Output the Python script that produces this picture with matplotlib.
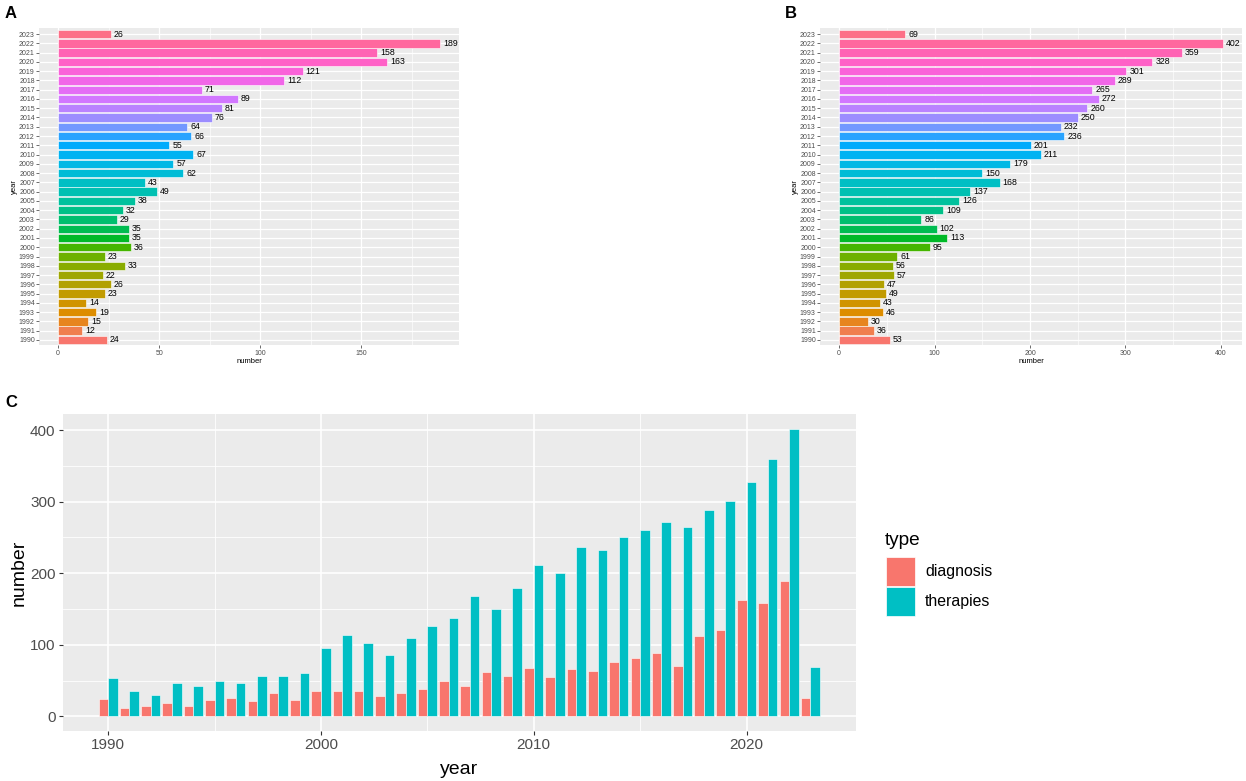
import numpy as np
import matplotlib
matplotlib.use("Agg")
import matplotlib.pyplot as plt
from matplotlib.patches import Rectangle

plt.rcParams['font.family'] = ['Liberation Sans', 'DejaVu Sans']

# ---------------------------------------------------------------
# data
# ---------------------------------------------------------------
years = list(range(1990, 2024))
diagnosis = [24, 12, 15, 19, 14, 23, 26, 22, 33, 23,
             36, 35, 35, 29, 32, 38, 49, 43, 62, 57,
             67, 55, 66, 64, 76, 81, 89, 71, 112, 121,
             163, 158, 189, 26]
therapies = [53, 36, 30, 46, 43, 49, 47, 57, 56, 61,
             95, 113, 102, 86, 109, 126, 137, 168, 150, 179,
             211, 201, 236, 232, 250, 260, 272, 265, 289, 301,
             328, 359, 402, 69]
type_labels = ['diagnosis', 'therapies']

BG = '#EBEBEB'
TXT = '#4D4D4D'
TICK = '#333333'


def hue_pal(n, c=100.0, l=65.0):
    # ggplot2 default discrete palette (polar LUV -> sRGB)
    hues = np.linspace(15, 375, n + 1)[:-1]
    Xn, Yn, Zn = 95.047, 100.0, 108.883
    un = 4 * Xn / (Xn + 15 * Yn + 3 * Zn)
    vn = 9 * Yn / (Xn + 15 * Yn + 3 * Zn)
    out = []
    for h in hues:
        hr = np.deg2rad(h)
        u, v = c * np.cos(hr), c * np.sin(hr)
        Y = Yn * ((l + 16) / 116) ** 3
        up = u / (13 * l) + un
        vp = v / (13 * l) + vn
        X = 9 * Y * up / (4 * vp)
        Z = Y * (12 - 3 * up - 20 * vp) / (4 * vp)
        xyz = np.array([X, Y, Z]) / 100
        m = np.array([[3.240479, -1.537150, -0.498535],
                      [-0.969256, 1.875992, 0.041556],
                      [0.055648, -0.204043, 1.057311]])
        rgb = m @ xyz
        rgb = np.where(rgb <= 0.0031308, 12.92 * rgb,
                       1.055 * np.abs(rgb) ** (1 / 2.4) - 0.055)
        out.append(tuple(np.clip(rgb, 0, 1)))
    return out


def gg_axes(ax):
    ax.set_facecolor(BG)
    for s in ax.spines.values():
        s.set_visible(False)
    ax.set_axisbelow(True)


fig = plt.figure(figsize=(12.46, 7.81), dpi=100)
W, H = 1246, 781


def px_axes(x0, y0, x1, y1):
    return fig.add_axes([x0 / W, 1 - y1 / H, (x1 - x0) / W, (y1 - y0) / H])


year_cols = hue_pal(len(years))
ypos = np.arange(len(years))


def bar_panel(ax, values, xmajor, xminor):
    gg_axes(ax)
    vmax = max(values)
    ax.barh(ypos, values, height=0.9, color=year_cols,
            edgecolor='white', linewidth=0.4, zorder=3)
    for y, v in zip(ypos, values):
        ax.text(v + vmax * 0.008, y, str(v), fontsize=6.3, color='black',
                va='center', ha='left', zorder=4)
    ax.set_xlim(-0.05 * vmax, 1.05 * vmax)
    ax.set_ylim(-0.6, len(years) - 0.4)
    ax.set_xticks(xmajor)
    ax.set_xticks(xminor, minor=True)
    ax.set_yticks(ypos)
    ax.set_yticklabels([str(y) for y in years])
    ax.grid(which='major', color='white', linewidth=0.9)
    ax.grid(which='minor', axis='x', color='white', linewidth=0.45)
    ax.tick_params(axis='both', which='major', length=2, width=0.5,
                   color=TICK, labelsize=5, labelcolor=TXT, pad=1)
    ax.tick_params(which='minor', length=0)
    ax.set_xlabel('number', fontsize=5.5, labelpad=1)
    ax.set_ylabel('year', fontsize=5.5, labelpad=1)


# ---------------- panel A ----------------
axA = px_axes(39, 28.5, 459, 345.5)
bar_panel(axA, diagnosis, [0, 50, 100, 150], [25, 75, 125, 175])

# ---------------- panel B ----------------
axB = px_axes(820, 28.5, 1242, 345.5)
bar_panel(axB, therapies, [0, 100, 200, 300, 400], [50, 150, 250, 350])

# ---------------- panel C ----------------
axC = px_axes(62.5, 414.3, 856, 730.7)
gg_axes(axC)
yr = np.array(years)
w = 0.45
cols = ['#F8766D', '#00BFC4']
axC.bar(yr - w / 2, diagnosis, width=w, color=cols[0],
        edgecolor='white', linewidth=0.4, zorder=3)
axC.bar(yr + w / 2, therapies, width=w, color=cols[1],
        edgecolor='white', linewidth=0.4, zorder=3)
lo, hi = yr[0] - 0.45, yr[-1] + 0.45
pad = 0.05 * (hi - lo)
axC.set_xlim(lo - pad, hi + pad)
ymax = max(therapies)
axC.set_ylim(-0.05 * ymax, 1.05 * ymax)
axC.set_xticks([1990, 2000, 2010, 2020])
axC.set_xticks([1995, 2005, 2015], minor=True)
axC.set_yticks([0, 100, 200, 300, 400])
axC.set_yticks([50, 150, 250, 350], minor=True)
axC.grid(which='major', color='white', linewidth=1.2)
axC.grid(which='minor', color='white', linewidth=0.6)
axC.tick_params(which='major', length=3, width=0.8, color=TICK,
                labelsize=11, labelcolor=TXT, pad=2)
axC.tick_params(which='minor', length=0)
axC.set_xlabel('year', fontsize=14, labelpad=7)
axC.set_ylabel('number', fontsize=14, labelpad=2)

# legend for panel C, drawn by hand to get ggplot-sized keys
fig.text(885 / W, 1 - 545 / H, 'type', fontsize=13.7, va='baseline', ha='left')
for i, (lab, col) in enumerate(zip(type_labels, cols)):
    top = 557 + i * 30
    fig.add_artist(Rectangle((886 / W, 1 - (top + 28.5) / H), 28.5 / W, 28.5 / H,
                             transform=fig.transFigure, facecolor=col,
                             edgecolor='white', linewidth=0.5))
    fig.text(925 / W, 1 - (top + 14.5) / H, lab, fontsize=11.4,
             va='center', ha='left')

# panel tags
fig.text(5 / W, 1 - 6 / H, 'A', fontsize=12, fontweight='bold', va='top', ha='left')
fig.text(785 / W, 1 - 6 / H, 'B', fontsize=12, fontweight='bold', va='top', ha='left')
fig.text(5 / W, 1 - 395 / H, 'C', fontsize=12, fontweight='bold', va='top', ha='left')

fig.savefig('out.png', dpi=100)
